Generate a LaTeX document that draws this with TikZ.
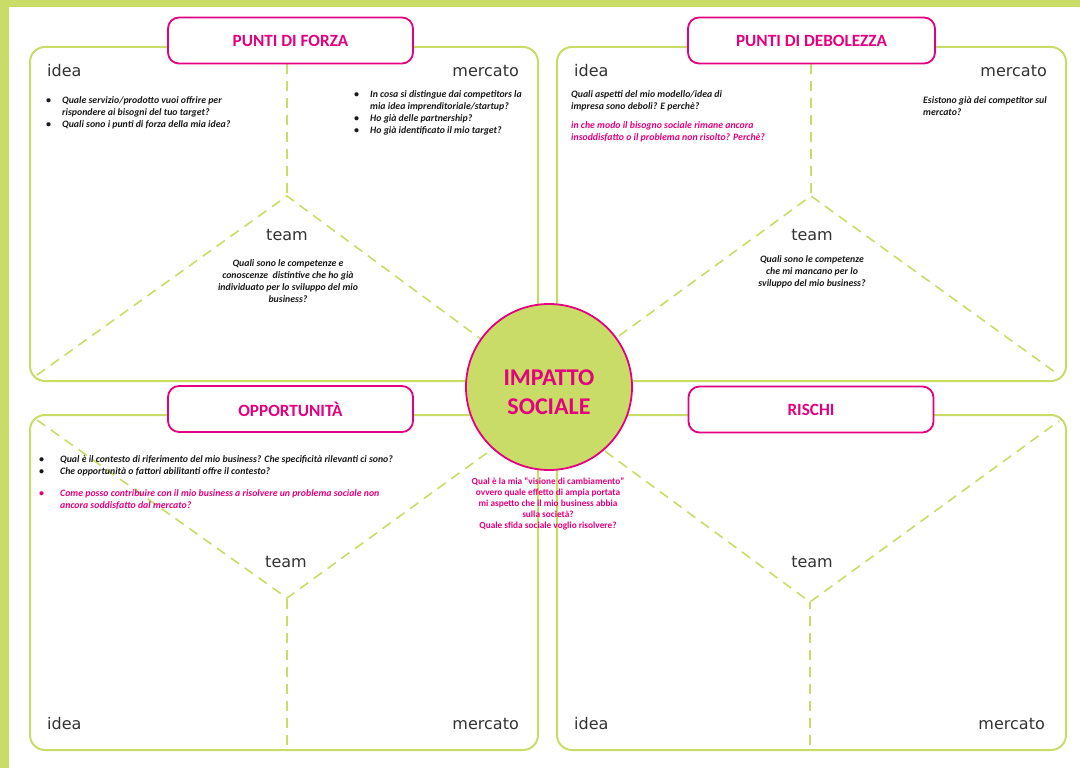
\documentclass[tikz,border=0pt]{standalone}
\usepackage{fontspec}
\setmainfont{Carlito}
\newfontfamily\labfont{DejaVu Sans}
\definecolor{lime}{RGB}{202,220,104}
\definecolor{pinkc}{RGB}{228,0,126}
\definecolor{txt}{RGB}{25,25,25}
\begin{document}
\begin{tikzpicture}[x=1pt,y=-1pt,
  panel/.style={draw=lime, line width=2pt, rounded corners=15pt},
  guide/.style={draw=lime, line width=1.6pt, dash pattern=on 10pt off 7pt},
  titlebox/.style={draw=pinkc, line width=1.8pt, fill=white, rounded corners=11pt,
    minimum width=245pt, minimum height=46pt, text=pinkc, inner sep=0pt,
    font=\bfseries\fontsize{17.2}{19}\selectfont},
  lab/.style={font=\labfont\fontsize{16}{18}\selectfont, text=black!80, inner sep=0pt},
  q/.style={font=\bfseries\itshape\fontsize{9.8}{12}\selectfont, text=txt, inner sep=0pt, align=left},
  qp/.style={q, text=pinkc},
  cq/.style={font=\bfseries\fontsize{9.3}{11}\selectfont, text=pinkc, inner sep=0pt, align=center}
]
\useasboundingbox (0,0) rectangle (1080,768);
% background and frame bands
\fill[white] (0,0) rectangle (1080,768);
\fill[lime] (0,0) rectangle (9,768);
\fill[lime] (0,0) rectangle (1080,7);

% panels
\draw[panel] (30,47) rectangle (538,381);
\draw[panel] (557,47) rectangle (1066,381);
\draw[panel] (30,415) rectangle (538,750);
\draw[panel] (557,415) rectangle (1066,750);

% guide coordinates
\coordinate (tlT) at (287,64);
\coordinate (tlA) at (287,196);
\coordinate (tlL) at (37,375);
\coordinate (tlR) at (531,376);
\coordinate (trT) at (811,64);
\coordinate (trA) at (811,196);
\coordinate (trL) at (564,376);
\coordinate (trR) at (1059,375);
\coordinate (blB) at (287,745);
\coordinate (blA) at (287,598);
\coordinate (blL) at (37,420);
\coordinate (blR) at (531,421);
\coordinate (brB) at (810,745);
\coordinate (brA) at (810,602);
\coordinate (brL) at (564,421);
\coordinate (brR) at (1059,421);

\draw[guide] (tlT) -- (tlA);
\draw[guide] (tlL) -- (tlA) -- (tlR);
\draw[guide] (trT) -- (trA);
\draw[guide] (trL) -- (trA) -- (trR);
\draw[guide] (blB) -- (blA);
\draw[guide] (blL) -- (blA) -- (blR);
\draw[guide] (brB) -- (brA);
\draw[guide] (brL) -- (brA) -- (brR);

% title boxes
\node[titlebox] (forza) at (290.5,40.5) {PUNTI DI FORZA};
\node[titlebox, minimum width=247pt] (debol) at (811.5,40.5) {PUNTI DI DEBOLEZZA};
\node[titlebox] (oppo) at (290.5,409) {OPPORTUNITÀ};
\node[titlebox] (risc) at (811,409.5) {RISCHI};

% central circle
\node[circle, draw=pinkc, fill=lime, line width=1.8pt, minimum size=166pt, inner sep=0pt] (imp) at (549,387) {};
\node[font=\bfseries\fontsize{24}{29}\selectfont, text=pinkc, align=center, inner sep=0pt] (imptxt) at (549,392) {IMPATTO\\SOCIALE};
\node[cq, anchor=north] (cqt) at (548,477) {Qual è la mia “visione di cambiamento”\\ovvero quale effetto di ampia portata\\mi aspetto che il mio business abbia\\sulla società?\\Quale sfida sociale voglio risolvere?};

% labels
\node[lab, anchor=base west] (i1) at (47,77) {idea};
\node[lab, anchor=base east] (m1) at (519,77) {mercato};
\node[lab, anchor=base] (t1) at (287,240) {team};
\node[lab, anchor=base west] (i2) at (574,77) {idea};
\node[lab, anchor=base east] (m2) at (1047,77) {mercato};
\node[lab, anchor=base] (t2) at (812,240) {team};
\node[lab, anchor=base west] (i3) at (47,729) {idea};
\node[lab, anchor=base east] (m3) at (519,729) {mercato};
\node[lab, anchor=base] (t3) at (286,567) {team};
\node[lab, anchor=base west] (i4) at (574,729) {idea};
\node[lab, anchor=base east] (m4) at (1045,729) {mercato};
\node[lab, anchor=base] (t4) at (812,567) {team};

% top-left texts
\node[q, anchor=north west] (q1) at (46,96) {\makebox[16pt][l]{\textbullet}Quale servizio/prodotto vuoi offrire per\\\hspace*{16pt}rispondere ai bisogni del tuo target?\\\makebox[16pt][l]{\textbullet}Quali sono i punti di forza della mia idea?};
\node[q, anchor=north west] (q2) at (354,90) {\makebox[16pt][l]{\textbullet}In cosa si distingue dai competitors la\\\hspace*{16pt}mia idea imprenditoriale/startup?\\\makebox[16pt][l]{\textbullet}Ho già delle partnership?\\\makebox[16pt][l]{\textbullet}Ho già identificato il mio target?};
\node[q, align=center, anchor=north] (q3) at (288,259) {Quali sono le competenze e\\conoscenze\ \ distintive che ho già\\individuato per lo sviluppo del mio\\business?};

% top-right texts
\node[q, anchor=north west] (q4) at (571,90) {Quali aspetti del mio modello/idea di\\impresa sono deboli? E perchè?};
\node[qp, anchor=north west] (q5) at (571,121) {in che modo il bisogno sociale rimane ancora\\insoddisfatto o il problema non risolto? Perchè?};
\node[q, anchor=north west] (q6) at (923,96) {Esistono già dei competitor sul\\mercato?};
\node[q, align=center, anchor=north] (q7) at (812,255) {Quali sono le competenze\\che mi mancano per lo\\sviluppo del mio business?};

% bottom-left texts
\node[q, anchor=north west] (q8) at (39,455) {\makebox[21pt][l]{\textbullet}Qual è il contesto di riferimento del mio business? Che specificità rilevanti ci sono?\\\makebox[21pt][l]{\textbullet}Che opportunità o fattori abilitanti offre il contesto?};
\node[qp, anchor=north west] (q9) at (39,489) {\makebox[21pt][l]{\textbullet}Come posso contribuire con il mio business a risolvere un problema sociale non\\\hspace*{21pt}ancora soddisfatto dal mercato?};
\end{tikzpicture}
\end{document}
